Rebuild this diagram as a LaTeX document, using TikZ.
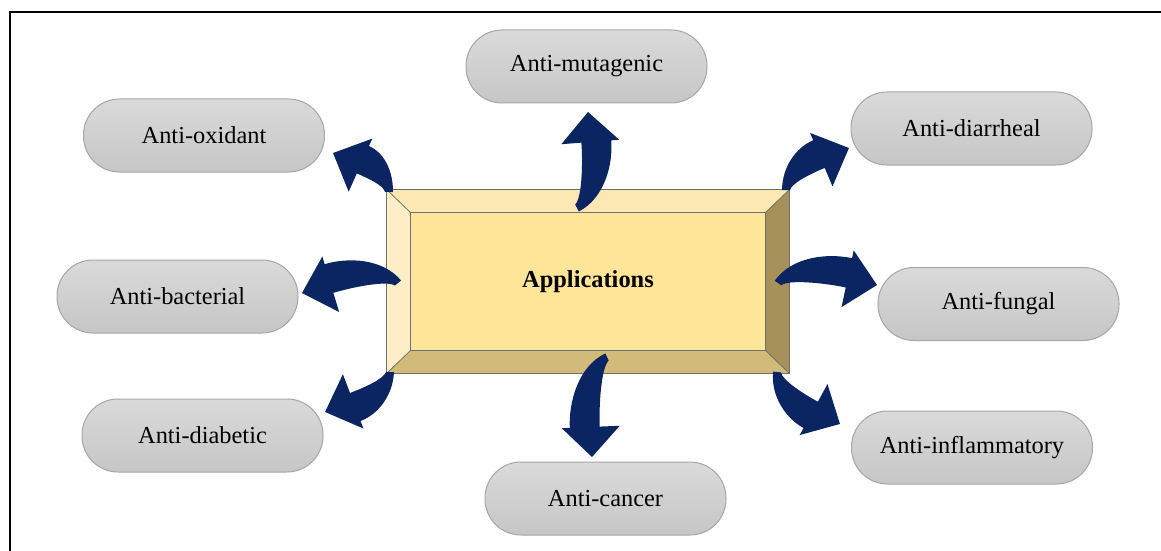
\documentclass[tikz,border=0pt]{standalone}
\usepackage{fontspec}
\setmainfont{Liberation Serif}
\usetikzlibrary{calc}

\definecolor{arrowblue}{HTML}{0B2563}
\definecolor{pilltop}{HTML}{DADADA}
\definecolor{pillbot}{HTML}{C6C6C6}
\definecolor{pillline}{HTML}{A6A6A6}
\definecolor{facegold}{HTML}{FFE598}
\definecolor{bevtop}{HTML}{FCE8B2}
\definecolor{bevleft}{HTML}{FDEEC8}
\definecolor{bevbot}{HTML}{D2BA7B}
\definecolor{bevright}{HTML}{A6915A}
\definecolor{boxline}{HTML}{707070}

% bent block arrow: tail coordinate, tip coordinate, side (+1 / -1)
\newcommand{\bentarrow}[3]{%
	\path (#1); \pgfgetlastxy{\tlx}{\tly}
	\path (#2); \pgfgetlastxy{\hdx}{\hdy}
	\pgfmathsetmacro{\arrang}{atan2(\hdy-\tly,\hdx-\tlx)}
	\pgfmathsetmacro{\arrlen}{veclen(\hdx-\tlx,\hdy-\tly)/0.5}
	\fill[arrowblue, shift={(#1)}, rotate=\arrang, yscale=#3]
		(-3.3,2.2) .. controls ({-3.3+0.168*\arrlen},{2.2+0.249*\arrlen})
		and ({0.755*\arrlen-25.5},{26.3+0.048*\arrlen}) .. ({\arrlen-25.5},26.3)
		-- ({\arrlen-24},34.2) -- (\arrlen,0) -- ({\arrlen-35},-22.8)
		-- ({\arrlen-31.2},-3.1)
		.. controls ({0.804*\arrlen-31.2},{-3.1+0.038*\arrlen})
		and ({3.3+0.077*\arrlen},{-2.2+0.064*\arrlen}) .. (3.3,-2.2) -- cycle;
}

\begin{document}
\begin{tikzpicture}[x=0.5pt, y=0.5pt,
	pill/.style={rectangle, rounded corners=18pt, minimum width=120.5pt,
		minimum height=36.5pt, draw=pillline, line width=0.5pt,
		top color=pilltop, bottom color=pillbot,
		font=\fontsize{12.2}{14}\selectfont},
	appbox/.style={rectangle, minimum width=201pt, minimum height=91.5pt,
		inner sep=0pt}]

	% ---- parameters

	\def\bevx{24}
	\def\bevy{23}

	% ---- frame

	\useasboundingbox (0,0) rectangle (1161,-551);
	\draw[line width=0.7pt] (10,-551) -- (10,-12) -- (1161,-12);

	% ---- central box

	\path node[appbox] (app) at (588,-281.5) {};

	\coordinate (inw) at ($(app.north west)+(\bevx,-\bevy)$);
	\coordinate (ine) at ($(app.north east)+(-\bevx,-\bevy)$);
	\coordinate (ise) at ($(app.south east)+(-\bevx,\bevy)$);
	\coordinate (isw) at ($(app.south west)+(\bevx,\bevy)$);

	\fill[bevtop] (app.north west) -- (app.north east) -- (ine) -- (inw) -- cycle;
	\fill[bevleft] (app.north west) -- (inw) -- (isw) -- (app.south west) -- cycle;
	\fill[bevbot] (app.south west) -- (isw) -- (ise) -- (app.south east) -- cycle;
	\fill[bevright] (app.north east) -- (app.south east) -- (ise) -- (ine) -- cycle;
	\fill[facegold] (inw) rectangle (ise);

	\draw[boxline, line width=0.6pt] (app.north west) rectangle (app.south east);
	\draw[boxline, line width=0.6pt] (inw) rectangle (ise);
	\draw[boxline, line width=0.4pt] (app.north west) -- (inw);
	\draw[boxline, line width=0.4pt] (app.north east) -- (ine);
	\draw[boxline, line width=0.4pt] (app.south east) -- (ise);
	\draw[boxline, line width=0.4pt] (app.south west) -- (isw);

	\node[font=\fontsize{12.2}{14}\selectfont\bfseries] (applbl) at (app.center) {Applications};

	% ---- effects

	\node[pill] (mutag) at (586.5,-66.5)  {Anti-mutagenic};
	\node[pill] (oxid)  at (204,-135.5)   {Anti-oxidant};
	\node[pill] (diarr) at (971.5,-128.5) {Anti-diarrheal};
	\node[pill] (bact)  at (177.5,-296.5) {Anti-bacterial};
	\node[pill] (fung)  at (998.5,-304)   {Anti-fungal};
	\node[pill] (diab)  at (202.5,-435.5) {Anti-diabetic};
	\node[pill] (canc)  at (605.5,-498.5) {Anti-cancer};
	\node[pill] (infl)  at (972,-447.5)   {Anti-inflammatory};

	% ---- arrow ends

	\coordinate (oxid-t)  at (389,-192);  \coordinate (oxid-h)  at (333,-153);
	\coordinate (mutag-t) at (577,-208);  \coordinate (mutag-h) at (588,-112);
	\coordinate (diarr-t) at (786,-190);  \coordinate (diarr-h) at (849,-148);
	\coordinate (bact-t)  at (398,-283);  \coordinate (bact-h)  at (302,-293);
	\coordinate (fung-t)  at (778,-283);  \coordinate (fung-h)  at (877,-285);
	\coordinate (diab-t)  at (390,-372);  \coordinate (diab-h)  at (325,-412);
	\coordinate (canc-t)  at (607,-357);  \coordinate (canc-h)  at (592,-457);
	\coordinate (infl-t)  at (777,-372);  \coordinate (infl-h)  at (840,-424);

	% ---- arrows

	\bentarrow{oxid-t}{oxid-h}{-1}
	\bentarrow{mutag-t}{mutag-h}{-1}
	\bentarrow{diarr-t}{diarr-h}{1}
	\bentarrow{bact-t}{bact-h}{-1}
	\bentarrow{fung-t}{fung-h}{1}
	\bentarrow{diab-t}{diab-h}{1}
	\bentarrow{canc-t}{canc-h}{-1}
	\bentarrow{infl-t}{infl-h}{-1}

\end{tikzpicture}
\end{document}
